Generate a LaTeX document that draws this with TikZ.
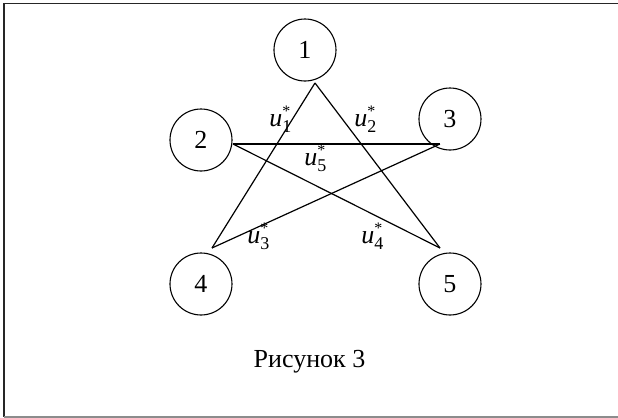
\documentclass[tikz,border=0pt]{standalone}
\usepackage{fontspec}
\setmainfont{Liberation Serif}
\usetikzlibrary{positioning}

% u with star above and index below
\newcommand{\ulab}[1]{\textit{u}\rlap{\raisebox{5pt}{\fontsize{8}{8}\selectfont *}}%
  \raisebox{-3pt}{\fontsize{9}{9}\selectfont #1}}

\begin{document}
\begin{tikzpicture}[
  x=0.5pt, y=-0.5pt,
  font=\fontsize{13}{15}\selectfont,
  vert/.style={circle, draw, line width=0.55pt, minimum size=31pt, inner sep=0pt},
  edge/.style={line width=0.6pt},
  lab/.style={inner sep=0pt, anchor=base west}
]
\useasboundingbox (0,0) rectangle (618,418);

% frame
\draw[line width=0.9pt, black!85] (618,3.5) -- (4,3.5) -- (4,417);
\draw[line width=0.6pt, black!45] (4,417) -- (618,417);

% vertices
\node[vert] (n1) at (305,50) {1};
\node[vert] (n2) at (201,140) {2};
\node[vert] (n3) at (450,119) {3};
\node[vert] (n4) at (201,284) {4};
\node[vert] (n5) at (450,284) {5};

% ends of the star
\coordinate (s1) at (315,83);
\coordinate (s2) at (233,144);
\coordinate (s3) at (440,144);
\coordinate (s4) at (212,248);
\coordinate (s5) at (440,248);

\draw[edge] (s1) -- (s4);
\draw[edge] (s1) -- (s5);
\draw[edge] (s2) -- (s3);
\draw[edge] (s2) -- (s5);
\draw[edge] (s3) -- (s4);

% labels
\node[lab] (u1) at (269,126) {\ulab{1}};
\node[lab] (u2) at (354,126) {\ulab{2}};
\node[lab] (u5) at (304,165) {\ulab{5}};
\node[lab] (u3) at (247,243) {\ulab{3}};
\node[lab] (u4) at (361,243) {\ulab{4}};

\node[inner sep=0pt, anchor=base] (cap) at (309.5,367) {Рисунок 3};
\end{tikzpicture}
\end{document}
